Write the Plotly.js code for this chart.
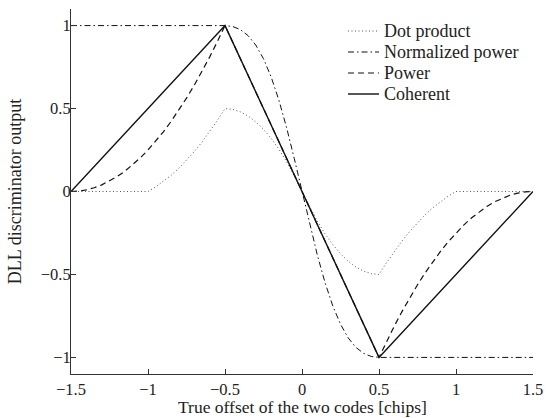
<!DOCTYPE html>
<html>
<head>
<meta charset="utf-8">
<script src="https://cdn.plot.ly/plotly-3.0.1.min.js"></script>
<style>html,body{margin:0;padding:0;background:#fff}#chart{width:547px;height:418px}</style>
</head>
<body>
<div id="chart"></div>
<script>
// Dot product discriminator
const dotX = [-1.5,-1.0,-0.95,-0.9,-0.85,-0.8,-0.75,-0.7,-0.65,-0.6,-0.55,-0.5,-0.45,-0.4,-0.35,-0.3,-0.25,-0.2,-0.15,-0.1,-0.05,0,
              0.05,0.1,0.15,0.2,0.25,0.3,0.35,0.4,0.45,0.5,0.55,0.6,0.65,0.7,0.75,0.8,0.85,0.9,0.95,1.0,1.5];
const dotY = [0,0,0.0275,0.06,0.0975,0.14,0.1875,0.24,0.2975,0.36,0.4275,0.5,0.495,0.48,0.455,0.42,0.375,0.32,0.255,0.18,0.095,0,
              -0.095,-0.18,-0.255,-0.32,-0.375,-0.42,-0.455,-0.48,-0.495,-0.5,-0.4275,-0.36,-0.2975,-0.24,-0.1875,-0.14,-0.0975,-0.06,-0.0275,0,0];
// Normalized power discriminator
const normX = [-1.5,-0.5,-0.45,-0.4,-0.35,-0.3,-0.25,-0.2,-0.15,-0.1,-0.05,0,0.05,0.1,0.15,0.2,0.25,0.3,0.35,0.4,0.45,0.5,1.5];
const normY = [1,1,0.9945,0.9756,0.9396,0.8824,0.8,0.6897,0.5505,0.3846,0.198,0,-0.198,-0.3846,-0.5505,-0.6897,-0.8,-0.8824,-0.9396,-0.9756,-0.9945,-1,-1];
// Power discriminator
const powX = [-1.5,-1.45,-1.4,-1.35,-1.3,-1.25,-1.2,-1.15,-1.1,-1.05,-1.0,-0.95,-0.9,-0.85,-0.8,-0.75,-0.7,-0.65,-0.6,-0.55,-0.5,
              0.5,0.55,0.6,0.65,0.7,0.75,0.8,0.85,0.9,0.95,1.0,1.05,1.1,1.15,1.2,1.25,1.3,1.35,1.4,1.45,1.5];
const powY = [0,0.0025,0.01,0.0225,0.04,0.0625,0.09,0.1225,0.16,0.2025,0.25,0.3025,0.36,0.4225,0.49,0.5625,0.64,0.7225,0.81,0.9025,1,
              -1,-0.9025,-0.81,-0.7225,-0.64,-0.5625,-0.49,-0.4225,-0.36,-0.3025,-0.25,-0.2025,-0.16,-0.1225,-0.09,-0.0625,-0.04,-0.0225,-0.01,-0.0025,0];
// Coherent discriminator
const cohX = [-1.5,-0.5,0.5,1.5];
const cohY = [0,1,-1,0];

const xTicks = [-1.5,-1,-0.5,0,0.5,1,1.5];
const yTicks = [-1,-0.5,0,0.5,1];
const names = ['Dot product','Normalized power','Power','Coherent'];
const xTitle = 'True offset of the two codes [chips]';
const yTitle = 'DLL discriminator output';

const FONT = 'Liberation Serif, Times New Roman, serif';
const FS = 18, TFS = 16.5;
const styles = [
  {color: '#555', width: 1, dash: '1px,2.5px'},
  {color: '#111', width: 1, dash: '6px,3px,1.5px,3px'},
  {color: '#111', width: 1.2, dash: '6px,4px'},
  {color: '#111', width: 1.4, dash: 'solid'}
];
const traces = [
  {x: dotX, y: dotY, name: names[0], mode: 'lines', line: styles[0]},
  {x: normX, y: normY, name: names[1], mode: 'lines', line: styles[1]},
  {x: powX, y: powY, name: names[2], mode: 'lines', line: styles[2]},
  {x: cohX, y: cohY, name: names[3], mode: 'lines', line: styles[3]}
];

// Legend drawn as annotations + line samples (pixel placement inside the plot area)
const M = {l: 71, r: 14, t: 9, b: 44};
const PW = 547 - M.l - M.r, PH = 418 - M.t - M.b;
const px2x = p => (p - M.l) / PW;
const px2y = p => (418 - M.b - p) / PH;
const legRows = [31, 52, 73, 94];
const shapes = [], annotations = [];
names.forEach((n, i) => {
  shapes.push({type: 'line', xref: 'paper', yref: 'paper',
    x0: px2x(348), x1: px2x(379), y0: px2y(legRows[i]), y1: px2y(legRows[i]),
    line: {color: styles[i].color, width: styles[i].width, dash: styles[i].dash}});
  annotations.push({xref: 'paper', yref: 'paper', x: px2x(382), y: px2y(legRows[i]),
    xanchor: 'left', yanchor: 'middle', text: n, showarrow: false,
    font: {family: FONT, size: FS, color: '#222'}});
});
// x-axis title placed just above the bottom edge
annotations.push({xref: 'paper', yref: 'paper', x: 0.5, y: px2y(407), xanchor: 'center', yanchor: 'middle',
  text: xTitle, showarrow: false, borderpad: 0, font: {family: FONT, size: 17.5, color: '#222'}});

const axisCommon = {
  showgrid: false, zeroline: false, showline: true, linecolor: '#333', linewidth: 1,
  ticks: 'inside', ticklen: 5, tickcolor: '#333', tickwidth: 1,
  tickfont: {family: FONT, size: TFS, color: '#222'}, mirror: false
};
const layout = {
  width: 547, height: 418,
  margin: M,
  paper_bgcolor: '#fff', plot_bgcolor: '#fff',
  font: {family: FONT, size: FS, color: '#222'},
  xaxis: Object.assign({}, axisCommon, {
    range: [-1.5, 1.5], tickvals: xTicks, ticktext: xTicks.map(v => String(v).replace('-', '\u2212'))
  }),
  yaxis: Object.assign({}, axisCommon, {
    range: [-1.1, 1.1], tickvals: yTicks, ticktext: yTicks.map(v => String(v).replace('-', '\u2212')),
    ticklabelstandoff: -4,
    title: {text: yTitle, font: {family: FONT, size: FS, color: '#222'}, standoff: 14}
  }),
  showlegend: false,
  shapes: shapes,
  annotations: annotations
};
Plotly.newPlot('chart', traces, layout, {displayModeBar: false, staticPlot: true});
</script>
</body>
</html>
